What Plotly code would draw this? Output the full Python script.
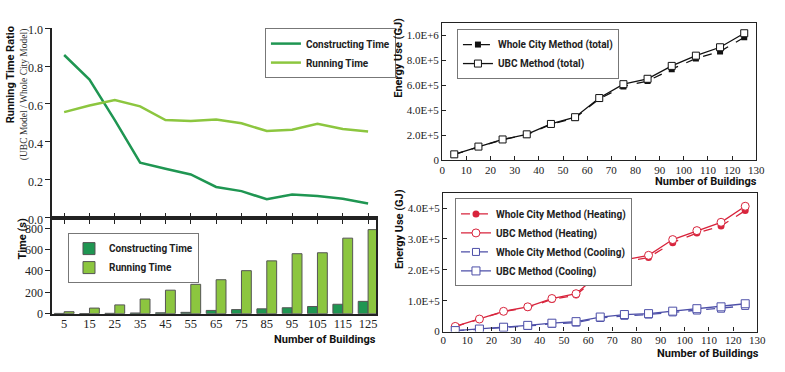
import plotly.graph_objects as go

# ---------------- data ----------------
buildings = [5, 15, 25, 35, 45, 55, 65, 75, 85, 95, 105, 115, 125]

ratio_constructing = [0.858, 0.729, 0.515, 0.290, 0.258, 0.228, 0.162, 0.140, 0.097, 0.122, 0.114, 0.100, 0.075]
ratio_running = [0.557, 0.592, 0.621, 0.587, 0.515, 0.510, 0.518, 0.498, 0.457, 0.464, 0.495, 0.468, 0.455]

time_constructing = [2, 1, 3, 6, 8, 12, 30, 38, 45, 55, 67, 88, 115]
time_running = [18, 52, 82, 137, 220, 275, 318, 403, 495, 562, 571, 708, 788]

total_whole = [46000, 108000, 164000, 205000, 287000, 338000, 490000, 590000, 633000, 728000, 813000, 869000, 982000]
total_ubc = [47000, 109000, 166000, 207000, 290000, 344000, 497000, 608000, 651000, 754000, 836000, 903000, 1015000]

heat_whole = [16000, 40000, 64500, 78000, 104000, 118000, 185000, 226000, 240000, 288000, 319000, 342000, 392000]
heat_ubc = [16600, 40500, 65500, 80000, 107000, 122600, 190000, 232000, 247000, 298000, 327000, 354000, 406000]
cool_whole = [2500, 7000, 13000, 18000, 25000, 29000, 44000, 51000, 55000, 62000, 68000, 74000, 83000]
cool_ubc = [3000, 8000, 14000, 20000, 27000, 32000, 47000, 55000, 58000, 66000, 74000, 80000, 90000]

energy_xticks = [0, 10, 20, 30, 40, 50, 60, 70, 80, 90, 100, 110, 120, 130]
total_tickvals = [0, 200000, 400000, 600000, 800000, 1000000]
total_ticktext = ["0", "2.0E+5", "4.0E+5", "6.0E+5", "8.0E+5", "1.0E+6"]
hc_tickvals = [0, 100000, 200000, 300000, 400000]
hc_ticktext = ["0", "1.0E+5", "2.0E+5", "3.0E+5", "4.0E+5"]
ratio_ticks = [0.0, 0.2, 0.4, 0.6, 0.8, 1.0]
time_ticks = [0, 200, 400, 600, 800]

# ---------------- style ----------------
W, H = 785, 372
SERIF = "Liberation Serif, Times New Roman, serif"
SANS = "Roboto, Liberation Sans, Arial, sans-serif"
DARKG = "#1f9652"
LIGHTG = "#8cc63f"
RED = "#d8243c"
BLUE = "#4d4fa8"


def px(x):
    return x / W


def py(y):
    return 1 - y / H


fig = go.Figure()

# top-left lines
fig.add_trace(go.Scatter(x=buildings, y=ratio_constructing, mode="lines", name="Constructing Time",
                         line=dict(color=DARKG, width=2.5), xaxis="x", yaxis="y", legend="legend"))
fig.add_trace(go.Scatter(x=buildings, y=ratio_running, mode="lines", name="Running Time",
                         line=dict(color=LIGHTG, width=2.5), xaxis="x", yaxis="y", legend="legend"))
# invisible helper so the shared axis gets upward ticks too
fig.add_trace(go.Scatter(x=buildings, y=ratio_running, mode="lines", line=dict(width=0),
                         opacity=0, showlegend=False, hoverinfo="skip", xaxis="x5", yaxis="y"))

# bottom-left bars
fig.add_trace(go.Bar(x=buildings, y=time_constructing, name="Constructing Time",
                     marker=dict(color=DARKG, line=dict(color="#555", width=1)),
                     xaxis="x2", yaxis="y2", legend="legend2"))
fig.add_trace(go.Bar(x=buildings, y=time_running, name="Running Time",
                     marker=dict(color=LIGHTG, line=dict(color="#555", width=1)),
                     xaxis="x2", yaxis="y2", legend="legend2"))

# top-right totals
fig.add_trace(go.Scatter(x=buildings, y=total_whole, mode="lines+markers", name="Whole City Method (total)",
                         line=dict(color="#111", width=1.3, dash="dash"),
                         marker=dict(symbol="square", size=6, color="#111"),
                         xaxis="x3", yaxis="y3", legend="legend3"))
fig.add_trace(go.Scatter(x=buildings, y=total_ubc, mode="lines+markers", name="UBC Method (total)",
                         line=dict(color="#111", width=1.3),
                         marker=dict(symbol="square", size=7, color="white", line=dict(color="#111", width=1)),
                         xaxis="x3", yaxis="y3", legend="legend3"))

# bottom-right heating/cooling
fig.add_trace(go.Scatter(x=buildings, y=heat_whole, mode="lines+markers", name="Whole City Method (Heating)",
                         line=dict(color=RED, width=1.3, dash="dash"),
                         marker=dict(symbol="circle", size=7, color=RED),
                         xaxis="x4", yaxis="y4", legend="legend4"))
fig.add_trace(go.Scatter(x=buildings, y=heat_ubc, mode="lines+markers", name="UBC Method (Heating)",
                         line=dict(color=RED, width=1.3),
                         marker=dict(symbol="circle", size=8, color="white", line=dict(color=RED, width=1)),
                         xaxis="x4", yaxis="y4", legend="legend4"))
fig.add_trace(go.Scatter(x=buildings, y=cool_whole, mode="lines+markers", name="Whole City Method (Cooling)",
                         line=dict(color=BLUE, width=1.3, dash="dash"),
                         marker=dict(symbol="square", size=7, color="white", line=dict(color=BLUE, width=1)),
                         xaxis="x4", yaxis="y4", legend="legend4"))
fig.add_trace(go.Scatter(x=buildings, y=cool_ubc, mode="lines+markers", name="UBC Method (Cooling)",
                         line=dict(color=BLUE, width=1.3),
                         marker=dict(symbol="square", size=8, color="white", line=dict(color=BLUE, width=1)),
                         xaxis="x4", yaxis="y4", legend="legend4"))

tickfont = dict(family=SERIF, size=12, color="#222")
tickfont_r = dict(family=SERIF, size=11, color="#222")
left_xrange = [0.3, 128.2]
leftdom = [px(50), px(379)]
rightdom = [px(446), px(765)]

common = dict(showgrid=False, zeroline=False, linecolor="#222", tickcolor="#222")

fig.update_layout(
    width=W, height=H, margin=dict(l=0, r=0, t=0, b=0),
    paper_bgcolor="white", plot_bgcolor="white",
    hovermode=False,
    barmode="group", bargap=0.22, bargroupgap=0,
    showlegend=True,
    xaxis=dict(domain=leftdom, anchor="y", range=left_xrange, tickvals=buildings, showticklabels=False,
               ticks="outside", ticklen=5, tickwidth=1.3, showline=True, linewidth=1.5, **common),
    xaxis5=dict(overlaying="x", anchor="y", side="bottom", range=left_xrange, tickvals=buildings,
                showticklabels=False, ticks="inside", ticklen=5, tickwidth=1.3, showline=False, **common),
    yaxis=dict(domain=[py(221), py(24)], anchor="x", range=[0, 1.0], tickvals=ratio_ticks, tickformat=".1f",
               ticks="outside", ticklen=5, tickwidth=1.3, showline=True, linewidth=1.5, tickfont=tickfont,
               ticklabelshift=2, **common),
    xaxis2=dict(domain=leftdom, anchor="y2", range=left_xrange, tickvals=buildings, ticks="",
                showline=True, linewidth=1.5, mirror=True, tickfont=dict(family=SERIF, size=12.5, color="#222"),
                ticklabelstandoff=-2, **common),
    yaxis2=dict(domain=[py(320.7), py(221)], anchor="x2", range=[0, 900], tickvals=time_ticks,
                ticks="outside", ticklen=5, tickwidth=1.3, showline=True, linewidth=1.5, mirror=True,
                tickfont=tickfont, **common),
    xaxis3=dict(domain=rightdom, anchor="y3", range=[0, 130], tickvals=energy_xticks, ticks="inside",
                ticklen=4, showline=True, linewidth=1.2, mirror=True, tickfont=tickfont_r,
                ticklabelstandoff=-1, **common),
    yaxis3=dict(domain=[py(161.3), py(18.3)], anchor="x3", range=[0, 1100000], tickvals=total_tickvals,
                ticktext=total_ticktext, ticks="inside", ticklen=4, showline=True, linewidth=1.2,
                mirror=True, tickfont=tickfont_r, **common),
    xaxis4=dict(domain=[px(447), px(766)], anchor="y4", range=[0, 130], tickvals=energy_xticks,
                ticks="inside", ticklen=4, showline=True, linewidth=1.2, mirror=True, tickfont=tickfont_r,
                ticklabelstandoff=-2, **common),
    yaxis4=dict(domain=[py(339.3), py(195)], anchor="x4", range=[0, 450000], tickvals=hc_tickvals,
                ticktext=hc_ticktext, ticks="inside", ticklen=4, showline=True, linewidth=1.2,
                mirror=True, tickfont=tickfont_r, **common),
)

legfont = dict(family=SANS, size=10, color="#222", weight="bold")
legbase = dict(bgcolor="white", bordercolor="#777", borderwidth=1, xanchor="left", yanchor="top",
               font=legfont, itemwidth=30, tracegroupgap=0)
fig.update_layout(
    legend=dict(x=px(266), y=py(24), **legbase),
    legend2=dict(x=px(66), y=py(237), **legbase),
    legend3=dict(x=px(461), y=py(25), **legbase),
    legend4=dict(x=px(459), y=py(201), **legbase),
)

titlefont = dict(family=SANS, size=11, color="#111", weight="bold")
ann = [
    dict(text="Running Time Ratio", x=px(7), y=py(72), textangle=-90, font=titlefont),
    dict(text="(UBC Model / Whole City Model)", x=px(22), y=py(93), textangle=-90,
         font=dict(family=SERIF, size=9.5, color="#333")),
    dict(text="Time (s)", x=px(20), y=py(243), textangle=-90, font=titlefont),
    dict(text="Energy Use (GJ)", x=px(402), y=py(55), textangle=-90, font=titlefont),
    dict(text="Energy Use (GJ)", x=px(402), y=py(233), textangle=-90, font=titlefont),
    dict(text="Number of Buildings", x=px(381), y=py(348), xanchor="right", font=titlefont),
    dict(text="Number of Buildings", x=px(768), y=py(183), xanchor="right", font=titlefont),
    dict(text="Number of Buildings", x=px(770), y=py(362), xanchor="right", font=titlefont),
]
for a in ann:
    a.update(xref="paper", yref="paper", showarrow=False)
    a.setdefault("xanchor", "center")
    a.setdefault("yanchor", "middle")
fig.update_layout(annotations=ann)

fig.write_html("out.html", config={"displayModeBar": False},
               post_script="document.body.style.margin='0';document.body.style.overflow='hidden';")
